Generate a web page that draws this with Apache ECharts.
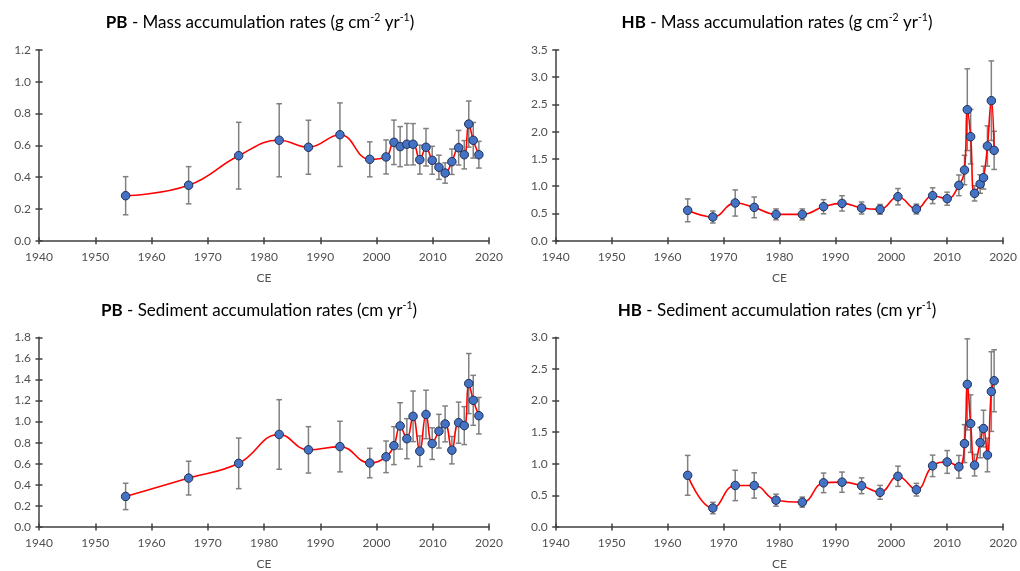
<!DOCTYPE html>
<html><head><meta charset="utf-8">
<script src="https://cdn.jsdelivr.net/npm/echarts@6/dist/echarts.min.js"></script>
<style>html,body{margin:0;padding:0;background:#fff}#c{width:1020px;height:571px}</style>
</head><body><div id="c"></div>
<script>
// ---- data ----
const pbYears = [1955.4,1966.6,1975.5,1982.7,1987.9,1993.5,1998.8,2001.7,2003.1,2004.2,2005.4,2006.5,2007.7,2008.8,2009.9,2011.1,2012.2,2013.4,2014.6,2015.6,2016.4,2017.2,2018.2];
const pbMar = [0.283,0.349,0.535,0.632,0.588,0.667,0.512,0.527,0.619,0.592,0.607,0.607,0.510,0.588,0.506,0.462,0.426,0.497,0.585,0.541,0.734,0.632,0.541];
const pbMarErr = [0.12,0.117,0.21,0.23,0.17,0.20,0.11,0.107,0.14,0.126,0.131,0.13,0.091,0.118,0.088,0.076,0.064,0.08,0.109,0.089,0.145,0.112,0.084];
const pbSar = [0.290,0.464,0.604,0.878,0.732,0.763,0.607,0.666,0.772,0.959,0.838,1.050,0.719,1.068,0.791,0.909,0.978,0.729,0.990,0.962,1.361,1.202,1.056];
const pbSarErr = [0.125,0.16,0.24,0.33,0.22,0.24,0.14,0.15,0.18,0.22,0.19,0.24,0.145,0.23,0.15,0.16,0.17,0.13,0.195,0.18,0.285,0.237,0.173];
const hbYears = [1963.6,1968.1,1972.1,1975.5,1979.4,1984.1,1987.9,1991.2,1994.7,1998.0,2001.2,2004.5,2007.4,2010.0,2012.1,2013.1,2013.6,2014.2,2014.9,2015.9,2016.5,2017.2,2017.9,2018.4];
const hbMar = [0.557,0.435,0.692,0.612,0.483,0.483,0.624,0.685,0.600,0.575,0.808,0.581,0.826,0.771,1.016,1.297,2.405,1.909,0.869,1.040,1.157,1.738,2.570,1.658];
const hbMarErr = [0.21,0.11,0.24,0.19,0.10,0.10,0.13,0.14,0.11,0.09,0.15,0.09,0.145,0.12,0.19,0.27,0.75,0.50,0.14,0.17,0.21,0.37,0.73,0.35];
const hbSar = [0.817,0.300,0.657,0.657,0.424,0.393,0.698,0.709,0.652,0.548,0.802,0.590,0.967,1.029,0.952,1.319,2.256,1.635,0.978,1.335,1.557,1.138,2.142,2.313];
const hbSarErr = [0.315,0.09,0.24,0.20,0.095,0.08,0.155,0.16,0.125,0.11,0.16,0.10,0.17,0.18,0.18,0.30,0.72,0.455,0.17,0.24,0.29,0.265,0.63,0.49];
const xTicks = {min:1940, max:2020, interval:10};
const yScales = [{max:1.2, interval:0.2},{max:3.5, interval:0.5},{max:1.8, interval:0.2},{max:3.0, interval:0.5}];
const titles = [
  ['PB','Mass accumulation rates (g cm','-2',' yr','-1',')'],
  ['HB','Mass accumulation rates (g cm','-2',' yr','-1',')'],
  ['PB','Sediment accumulation rates (cm yr','-1',')'],
  ['HB','Sediment accumulation rates (cm yr','-1',')']
];
const xName = 'CE';

// ---- layout ----
const FONT = 'Lato, "Open Sans", sans-serif';
const grids = [
  {left:39, width:450, top:50, height:190.7},
  {left:555.7, width:451.3, top:50, height:190.7},
  {left:39, width:450, top:337.3, height:192.7},
  {left:555.7, width:451.3, top:337.3, height:193.3}
];
const titlePos = [[260,23],[777,23],[259,311],[777,311]];
const panels = [
  {x:pbYears, y:pbMar, e:pbMarErr},
  {x:hbYears, y:hbMar, e:hbMarErr},
  {x:pbYears, y:pbSar, e:pbSarErr},
  {x:hbYears, y:hbSar, e:hbSarErr}
];
const axisCol = '#404040';
const labCol = '#505050';

const xAxis = [], yAxis = [], series = [], graphic = [];
grids.forEach((g, i) => {
  const common = {gridIndex:i, type:'value', min:xTicks.min, max:xTicks.max, interval:xTicks.interval, splitLine:{show:false}};
  xAxis.push(Object.assign({}, common, {
    position:'bottom',
    axisLine:{show:true, lineStyle:{color:axisCol, width:1.5}},
    axisTick:{show:true, inside:false, length:3.5, lineStyle:{color:axisCol, width:1.5}},
    axisLabel:{color:labCol, fontFamily:FONT, fontSize:12, margin:10, formatter: v => String(v)},
    name:xName, nameLocation:'middle', nameGap:31,
    nameTextStyle:{color:labCol, fontFamily:FONT, fontSize:12}
  }));
  xAxis.push(Object.assign({}, common, {
    position:'bottom',
    axisLine:{show:false},
    axisTick:{show:true, inside:true, length:3.5, lineStyle:{color:axisCol, width:1.5}},
    axisLabel:{show:false}
  }));
  const ys = yScales[i];
  const yc = {gridIndex:i, type:'value', min:0, max:ys.max, interval:ys.interval, splitLine:{show:false}};
  yAxis.push(Object.assign({}, yc, {
    position:'left',
    axisLine:{show:true, lineStyle:{color:axisCol, width:1.5}},
    axisTick:{show:true, inside:false, length:3.5, lineStyle:{color:axisCol, width:1.5}},
    axisLabel:{color:labCol, fontFamily:FONT, fontSize:12, margin:8, formatter: v => v.toFixed(1)}
  }));
  yAxis.push(Object.assign({}, yc, {
    position:'left',
    axisLine:{show:false},
    axisTick:{show:true, inside:true, length:3.5, lineStyle:{color:axisCol, width:1.5}},
    axisLabel:{show:false}
  }));
  const p = panels[i];
  series.push({
    type:'custom', xAxisIndex:2*i, yAxisIndex:2*i, z:2,
    data: p.x.map((yr, k) => [yr, p.y[k], p.e[k]]),
    encode:{x:0, y:1},
    renderItem: (params, api) => {
      const x = api.value(0), y = api.value(1), e = api.value(2);
      const t = api.coord([x, y + e]), b = api.coord([x, y - e]);
      const st = {stroke:'#808080', lineWidth:1.5};
      const hw = 2.8;
      return {type:'group', children:[
        {type:'line', shape:{x1:t[0], y1:t[1], x2:b[0], y2:b[1]}, style:st},
        {type:'line', shape:{x1:t[0]-hw, y1:t[1], x2:t[0]+hw, y2:t[1]}, style:st},
        {type:'line', shape:{x1:b[0]-hw, y1:b[1], x2:b[0]+hw, y2:b[1]}, style:st}
      ]};
    }
  });
  series.push({
    type:'line', xAxisIndex:2*i, yAxisIndex:2*i, z:3,
    data: p.x.map((yr, k) => [yr, p.y[k]]),
    smooth:0.45,
    symbol:'circle', symbolSize:8.5,
    lineStyle:{color:'#FF0000', width:1.6},
    itemStyle:{color:'#4472C4', borderColor:'#1F2F55', borderWidth:1},
    emphasis:{disabled:true}
  });
  const t = titles[i];
  let txt = '{b|' + t[0] + '}{n| - ' + t[1] + '}';
  for (let k = 2; k < t.length; k++) {
    txt += (k % 2 === 0) ? '{s|' + t[k] + '}' : '{n|' + t[k] + '}';
  }
  graphic.push({
    type:'text', x:titlePos[i][0], y:titlePos[i][1], silent:true,
    style:{
      text: txt, align:'center', verticalAlign:'middle',
      rich:{
        b:{fontFamily:FONT, fontSize:17, fontWeight:'bold', fill:'#000', lineHeight:21},
        n:{fontFamily:FONT, fontSize:17, fill:'#000', lineHeight:21},
        s:{fontFamily:FONT, fontSize:10.5, fill:'#000', verticalAlign:'top', lineHeight:12}
      }
    }
  });
});

const chart = echarts.init(document.getElementById('c'), null, {renderer:'canvas'});
chart.setOption({
  animation:false,
  grid: grids,
  xAxis, yAxis, series, graphic
});
</script>
</body></html>
